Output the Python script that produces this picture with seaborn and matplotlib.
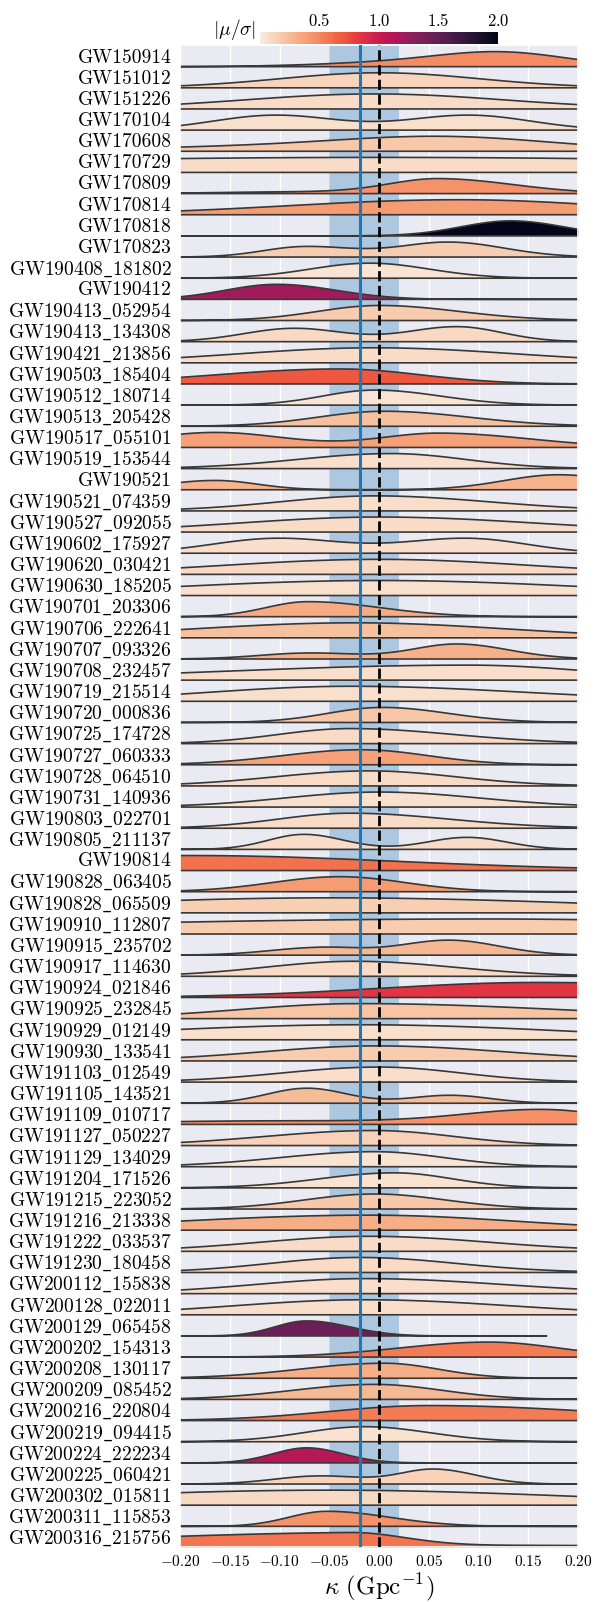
import numpy as np
import matplotlib
matplotlib.use("Agg")
import matplotlib.pyplot as plt
import seaborn as sns
from matplotlib.colors import Normalize
from matplotlib.cm import ScalarMappable
from matplotlib.ticker import FuncFormatter
from matplotlib.mathtext import MathTextParser
from matplotlib.font_manager import FontProperties

# ---------------- data ----------------
NAMES = [
    "GW150914", "GW151012", "GW151226", "GW170104", "GW170608", "GW170729",
    "GW170809", "GW170814", "GW170818", "GW170823",
    "GW190408_181802", "GW190412", "GW190413_052954", "GW190413_134308",
    "GW190421_213856", "GW190503_185404", "GW190512_180714", "GW190513_205428",
    "GW190517_055101", "GW190519_153544",
    "GW190521", "GW190521_074359", "GW190527_092055", "GW190602_175927",
    "GW190620_030421", "GW190630_185205", "GW190701_203306", "GW190706_222641",
    "GW190707_093326", "GW190708_232457",
    "GW190719_215514", "GW190720_000836", "GW190725_174728", "GW190727_060333",
    "GW190728_064510", "GW190731_140936", "GW190803_022701", "GW190805_211137",
    "GW190814", "GW190828_063405",
    "GW190828_065509", "GW190910_112807", "GW190915_235702", "GW190917_114630",
    "GW190924_021846", "GW190925_232845", "GW190929_012149", "GW190930_133541",
    "GW191103_012549", "GW191105_143521",
    "GW191109_010717", "GW191127_050227", "GW191129_134029", "GW191204_171526",
    "GW191215_223052", "GW191216_213338", "GW191222_033537", "GW191230_180458",
    "GW200112_155838", "GW200128_022011",
    "GW200129_065458", "GW200202_154313", "GW200208_130117", "GW200209_085452",
    "GW200216_220804", "GW200219_094415", "GW200224_222234", "GW200225_060421",
    "GW200302_015811", "GW200311_115853", "GW200316_215756",
]

# |mu/sigma| per event (sets the fill colour)
ABS_MU_SIGMA = [
    0.48, 0.12, 0.08, 0.06, 0.18, 0.08, 0.45, 0.40, 2.00, 0.16,
    0.04, 1.20, 0.17, 0.10, 0.08, 0.70, 0.04, 0.22, 0.38, 0.07,
    0.29, 0.07, 0.08, 0.07, 0.10, 0.06, 0.33, 0.22, 0.30, 0.07,
    0.06, 0.19, 0.09, 0.38, 0.09, 0.06, 0.08, 0.08, 0.60, 0.40,
    0.15, 0.17, 0.27, 0.09, 0.85, 0.21, 0.06, 0.17, 0.07, 0.25,
    0.46, 0.14, 0.04, 0.05, 0.18, 0.32, 0.08, 0.09, 0.07, 0.07,
    1.45, 0.55, 0.32, 0.26, 0.55, 0.05, 1.10, 0.13, 0.10, 0.45, 0.58,
]

# posterior shape per event: modes as (centre, left width, right width, relative height)
PEAKS = [
    [(0.125, 0.065, 0.065, 1.0), (0.02, 0.08, 0.08, 0.3)],
    [(0.0, 0.10, 0.10, 1.0)],
    [(-0.005, 0.13, 0.13, 1.0)],
    [(-0.105, 0.062, 0.062, 1.0), (0.09, 0.062, 0.062, 1.0)],
    [(0.07, 0.10, 0.10, 0.7), (-0.02, 0.18, 0.18, 0.5)],
    [(0.0, 0.5, 0.5, 1.0)],
    [(0.06, 0.05, 0.075, 1.0), (-0.08, 0.08, 0.08, 0.12)],
    [(0.08, 0.17, 0.15, 1.0)],
    [(0.132, 0.05, 0.053, 1.0)],
    [(0.07, 0.05, 0.055, 1.0), (-0.075, 0.042, 0.05, 0.7)],
    [(-0.01, 0.06, 0.06, 1.0)],
    [(-0.103, 0.052, 0.059, 1.0)],
    [(0.0, 0.062, 0.08, 1.0)],
    [(0.078, 0.05, 0.045, 1.0), (-0.086, 0.05, 0.05, 0.89)],
    [(-0.005, 0.135, 0.14, 1.0)],
    [(-0.04, 0.125, 0.082, 1.0)],
    [(-0.005, 0.052, 0.066, 1.0)],
    [(0.005, 0.067, 0.085, 1.0)],
    [(-0.165, 0.07, 0.07, 1.0), (0.06, 0.06, 0.09, 0.95)],
    [(0.012, 0.095, 0.075, 1.0)],
    [(0.18, 0.055, 0.06, 1.0), (-0.165, 0.05, 0.042, 0.62)],
    [(-0.005, 0.095, 0.115, 1.0)],
    [(0.0, 0.14, 0.155, 1.0)],
    [(-0.103, 0.065, 0.065, 1.0), (0.088, 0.065, 0.06, 1.0)],
    [(0.0, 0.155, 0.15, 1.0)],
    [(0.0, 0.2, 0.2, 1.0)],
    [(-0.072, 0.042, 0.072, 1.0)],
    [(-0.025, 0.16, 0.15, 1.0)],
    [(0.078, 0.045, 0.052, 1.0), (-0.07, 0.05, 0.05, 0.4)],
    [(0.09, 0.24, 0.12, 1.0)],
    [(-0.03, 0.14, 0.175, 1.0)],
    [(0.003, 0.055, 0.066, 1.0)],
    [(-0.03, 0.072, 0.105, 1.0)],
    [(-0.018, 0.08, 0.067, 1.0)],
    [(-0.01, 0.095, 0.087, 1.0)],
    [(0.0, 0.095, 0.10, 1.0)],
    [(-0.03, 0.072, 0.10, 1.0)],
    [(-0.076, 0.036, 0.04, 1.0), (0.088, 0.04, 0.04, 0.8)],
    [(-0.19, 0.2, 0.21, 1.0)],
    [(-0.04, 0.068, 0.066, 1.0)],
    [(-0.05, 0.25, 0.27, 1.0)],
    [(0.11, 0.45, 0.30, 1.0)],
    [(0.07, 0.05, 0.05, 1.0), (-0.06, 0.05, 0.04, 0.5)],
    [(-0.025, 0.09, 0.10, 1.0)],
    [(0.16, 0.16, 0.20, 1.0)],
    [(-0.02, 0.12, 0.20, 1.0)],
    [(-0.02, 0.21, 0.20, 1.0)],
    [(-0.003, 0.115, 0.13, 1.0)],
    [(0.0, 0.098, 0.082, 1.0)],
    [(-0.073, 0.04, 0.04, 1.0), (0.071, 0.04, 0.04, 0.53)],
    [(0.165, 0.08, 0.065, 1.0), (-0.1, 0.15, 0.15, 0.25)],
    [(-0.005, 0.11, 0.08, 1.0)],
    [(-0.005, 0.095, 0.07, 1.0)],
    [(0.015, 0.075, 0.058, 1.0)],
    [(-0.005, 0.07, 0.071, 1.0)],
    [(-0.01, 0.19, 0.145, 1.0)],
    [(-0.01, 0.11, 0.12, 1.0)],
    [(-0.02, 0.09, 0.097, 1.0)],
    [(-0.015, 0.11, 0.14, 1.0)],
    [(-0.015, 0.13, 0.145, 1.0)],
    [(-0.073, 0.032, 0.043, 1.0)],
    [(0.11, 0.09, 0.07, 1.0)],
    [(0.005, 0.085, 0.054, 1.0)],
    [(-0.005, 0.082, 0.068, 1.0)],
    [(0.05, 0.10, 0.165, 1.0)],
    [(-0.015, 0.061, 0.065, 1.0)],
    [(-0.073, 0.034, 0.036, 1.0)],
    [(0.055, 0.035, 0.042, 1.0), (-0.06, 0.045, 0.045, 0.55)],
    [(-0.05, 0.25, 0.24, 1.0)],
    [(-0.053, 0.038, 0.063, 1.0)],
    [(-0.03, 0.25, 0.055, 1.0), (0.15, 0.15, 0.15, 0.15)],
]

# events whose posterior support ends inside the plotted range
SUPPORT = {"GW200129_065458": (-0.21, 0.168)}

KAPPA_BAND = (-0.05, 0.02)
KAPPA_BEST = -0.019
X_TICKS = [-0.20, -0.15, -0.10, -0.05, 0.00, 0.05, 0.10, 0.15, 0.20]
CBAR_TICKS = [0.5, 1.0, 1.5, 2.0]

# ---------------- style ----------------
sns.set_theme(style="darkgrid")
plt.rcParams["font.family"] = ["cmr10", "DejaVu Serif"]
plt.rcParams["mathtext.fontset"] = "cm"
plt.rcParams["axes.formatter.use_mathtext"] = True


def label_text(name):
    """cmr10 has a dot accent in the underscore slot: write the underscore with mathtext."""
    if "_" not in name:
        return name
    cand = r"$\mathrm{" + name.replace("_", r"\_") + "}$"
    try:
        MathTextParser("agg").parse(cand, 100, FontProperties(family="cmr10", size=14))
        return cand
    except Exception:
        return name.replace("_", "\u2009")


W, H = 597, 1602
fig = plt.figure(figsize=(W / 100, H / 100), dpi=100)
ax = fig.add_axes([180 / W, 1 - 1547 / H, 398 / W, 1502 / H])

cmap = sns.color_palette("rocket_r", as_cmap=True)
norm = Normalize(0, 2)
N = len(NAMES)
PEAK_H = 0.71

ax.axvspan(*KAPPA_BAND, color="tab:blue", alpha=0.3, lw=0, zorder=1)

for i, (name, val, comps) in enumerate(zip(NAMES, ABS_MU_SIGMA, PEAKS)):
    lo, hi = SUPPORT.get(name, (-0.21, 0.21))
    x = np.linspace(lo, hi, 700)
    dens = np.zeros_like(x)
    for mu, sl, sr, amp in comps:
        s = np.where(x < mu, sl, sr)
        dens += amp * np.exp(-0.5 * ((x - mu) / s) ** 2)
    vis = (x >= -0.2) & (x <= 0.2)
    dens = dens / dens[vis].max() * PEAK_H
    base = N - 1 - i
    ax.fill_between(x, base, base + dens, facecolor=cmap(norm(val)),
                    edgecolor="0.22", linewidth=1.2, zorder=2)

ax.axvline(KAPPA_BEST, color="tab:blue", lw=2.2, zorder=5)
ax.axvline(0.0, color="black", ls="--", lw=2.0, zorder=5)

ax.set_xlim(-0.2, 0.2)
ax.set_ylim(0, N)
ax.set_xticks(X_TICKS)
ax.xaxis.set_major_formatter(FuncFormatter(lambda v, p: r"$%.2f$" % v))
ax.set_yticks([N - 1 - i + 0.5 for i in range(N)])
ax.set_yticklabels([label_text(n) for n in NAMES])
ax.grid(axis="x", color="white", lw=1.0)
ax.grid(axis="y", visible=False)
ax.tick_params(axis="y", length=0, pad=6, labelsize=14, labelcolor="black")
ax.tick_params(axis="x", length=0, pad=5, labelsize=11, labelcolor="black")
ax.set_xlabel(r"$\kappa\ (\mathrm{Gpc}^{-1})$", fontsize=18, labelpad=2, color="black")

# colour bar
cax = fig.add_axes([260 / W, 1 - 44 / H, 238 / W, 12 / H])
cb = fig.colorbar(ScalarMappable(norm=norm, cmap=cmap), cax=cax,
                  orientation="horizontal", ticks=CBAR_TICKS)
cax.xaxis.set_ticks_position("top")
cax.xaxis.set_major_formatter(FuncFormatter(lambda v, p: r"$%.1f$" % v))
cax.tick_params(length=0, pad=2, labelsize=12, labelcolor="black")
cb.outline.set_visible(False)
fig.text(256 / W, 1 - 30 / H, r"$|\mu/\sigma|$", ha="right", va="center",
         fontsize=14, color="black")

fig.savefig("out.png", dpi=100)
